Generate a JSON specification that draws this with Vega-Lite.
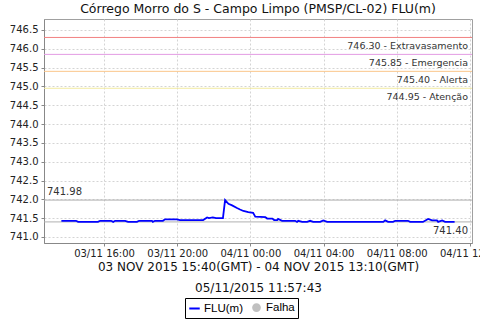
{
  "$schema": "https://vega.github.io/schema/vega-lite/v6.json",
  "autosize": {"type": "none"},
  "width": 428,
  "height": 224,
  "padding": {"left": 44, "top": 19, "right": 8, "bottom": 77},
  "background": "white",
  "title": {"text": "Córrego Morro do S - Campo Limpo (PMSP/CL-02) FLU(m)", "font": "DejaVu Sans", "fontSize": 12.5, "fontWeight": "normal", "color": "#111", "anchor": "middle", "offset": 4},
  "config": {
    "view": {"stroke": "#a0a0a0", "strokeWidth": 1},
    "axis": {"labelFont": "DejaVu Sans", "labelFontSize": 10, "labelColor": "#222", "domainColor": "#888", "tickColor": "#888", "tickSize": 3, "gridColor": "#d4d4d4", "gridDash": [2, 2], "gridWidth": 1, "titleFont": "DejaVu Sans", "titleFontWeight": "normal", "titleColor": "#111"},
    "axisY": {"tickCount": 12, "format": ".1f", "labelOverlap": false, "labelPadding": 3}
  },
  "datasets": {
    "flu": [
      {"t": "2015-11-03T13:40", "v": 741.43, "serie": "FLU(m)"},
      {"t": "2015-11-03T14:28", "v": 741.43, "serie": "FLU(m)"},
      {"t": "2015-11-03T14:35", "v": 741.40, "serie": "FLU(m)"},
      {"t": "2015-11-03T15:40", "v": 741.40, "serie": "FLU(m)"},
      {"t": "2015-11-03T15:47", "v": 741.43, "serie": "FLU(m)"},
      {"t": "2015-11-03T16:23", "v": 741.43, "serie": "FLU(m)"},
      {"t": "2015-11-03T16:30", "v": 741.40, "serie": "FLU(m)"},
      {"t": "2015-11-03T16:36", "v": 741.43, "serie": "FLU(m)"},
      {"t": "2015-11-03T17:09", "v": 741.43, "serie": "FLU(m)"},
      {"t": "2015-11-03T17:19", "v": 741.40, "serie": "FLU(m)"},
      {"t": "2015-11-03T17:48", "v": 741.40, "serie": "FLU(m)"},
      {"t": "2015-11-03T17:55", "v": 741.43, "serie": "FLU(m)"},
      {"t": "2015-11-03T18:37", "v": 741.43, "serie": "FLU(m)"},
      {"t": "2015-11-03T18:40", "v": 741.40, "serie": "FLU(m)"},
      {"t": "2015-11-03T18:47", "v": 741.43, "serie": "FLU(m)"},
      {"t": "2015-11-03T19:13", "v": 741.43, "serie": "FLU(m)"},
      {"t": "2015-11-03T19:20", "v": 741.47, "serie": "FLU(m)"},
      {"t": "2015-11-03T19:59", "v": 741.47, "serie": "FLU(m)"},
      {"t": "2015-11-03T20:09", "v": 741.45, "serie": "FLU(m)"},
      {"t": "2015-11-03T21:25", "v": 741.45, "serie": "FLU(m)"},
      {"t": "2015-11-03T21:38", "v": 741.52, "serie": "FLU(m)"},
      {"t": "2015-11-03T21:44", "v": 741.50, "serie": "FLU(m)"},
      {"t": "2015-11-03T21:57", "v": 741.52, "serie": "FLU(m)"},
      {"t": "2015-11-03T22:07", "v": 741.50, "serie": "FLU(m)"},
      {"t": "2015-11-03T22:30", "v": 741.50, "serie": "FLU(m)"},
      {"t": "2015-11-03T22:37", "v": 741.98, "serie": "FLU(m)"},
      {"t": "2015-11-03T22:48", "v": 741.88, "serie": "FLU(m)"},
      {"t": "2015-11-03T23:00", "v": 741.84, "serie": "FLU(m)"},
      {"t": "2015-11-03T23:16", "v": 741.77, "serie": "FLU(m)"},
      {"t": "2015-11-03T23:26", "v": 741.73, "serie": "FLU(m)"},
      {"t": "2015-11-03T23:37", "v": 741.69, "serie": "FLU(m)"},
      {"t": "2015-11-03T23:53", "v": 741.66, "serie": "FLU(m)"},
      {"t": "2015-11-04T00:09", "v": 741.64, "serie": "FLU(m)"},
      {"t": "2015-11-04T00:16", "v": 741.54, "serie": "FLU(m)"},
      {"t": "2015-11-04T00:49", "v": 741.53, "serie": "FLU(m)"},
      {"t": "2015-11-04T00:55", "v": 741.49, "serie": "FLU(m)"},
      {"t": "2015-11-04T01:12", "v": 741.49, "serie": "FLU(m)"},
      {"t": "2015-11-04T01:18", "v": 741.45, "serie": "FLU(m)"},
      {"t": "2015-11-04T01:28", "v": 741.45, "serie": "FLU(m)"},
      {"t": "2015-11-04T01:31", "v": 741.48, "serie": "FLU(m)"},
      {"t": "2015-11-04T01:44", "v": 741.43, "serie": "FLU(m)"},
      {"t": "2015-11-04T02:27", "v": 741.43, "serie": "FLU(m)"},
      {"t": "2015-11-04T02:33", "v": 741.40, "serie": "FLU(m)"},
      {"t": "2015-11-04T02:37", "v": 741.43, "serie": "FLU(m)"},
      {"t": "2015-11-04T02:50", "v": 741.40, "serie": "FLU(m)"},
      {"t": "2015-11-04T03:06", "v": 741.40, "serie": "FLU(m)"},
      {"t": "2015-11-04T03:16", "v": 741.43, "serie": "FLU(m)"},
      {"t": "2015-11-04T03:26", "v": 741.40, "serie": "FLU(m)"},
      {"t": "2015-11-04T03:49", "v": 741.40, "serie": "FLU(m)"},
      {"t": "2015-11-04T03:59", "v": 741.44, "serie": "FLU(m)"},
      {"t": "2015-11-04T04:12", "v": 741.40, "serie": "FLU(m)"},
      {"t": "2015-11-04T07:16", "v": 741.40, "serie": "FLU(m)"},
      {"t": "2015-11-04T07:22", "v": 741.44, "serie": "FLU(m)"},
      {"t": "2015-11-04T07:32", "v": 741.40, "serie": "FLU(m)"},
      {"t": "2015-11-04T07:48", "v": 741.40, "serie": "FLU(m)"},
      {"t": "2015-11-04T07:55", "v": 741.43, "serie": "FLU(m)"},
      {"t": "2015-11-04T08:37", "v": 741.43, "serie": "FLU(m)"},
      {"t": "2015-11-04T08:44", "v": 741.40, "serie": "FLU(m)"},
      {"t": "2015-11-04T09:26", "v": 741.40, "serie": "FLU(m)"},
      {"t": "2015-11-04T09:43", "v": 741.48, "serie": "FLU(m)"},
      {"t": "2015-11-04T09:56", "v": 741.44, "serie": "FLU(m)"},
      {"t": "2015-11-04T10:12", "v": 741.44, "serie": "FLU(m)"},
      {"t": "2015-11-04T10:16", "v": 741.40, "serie": "FLU(m)"},
      {"t": "2015-11-04T10:29", "v": 741.44, "serie": "FLU(m)"},
      {"t": "2015-11-04T10:39", "v": 741.40, "serie": "FLU(m)"},
      {"t": "2015-11-04T11:10", "v": 741.40, "serie": "FLU(m)"}
    ],
    "limites": [
      {"v": 746.30, "nivel": "Extravasamento", "label": "746.30 - Extravasamento"},
      {"v": 745.85, "nivel": "Emergencia", "label": "745.85 - Emergencia"},
      {"v": 745.40, "nivel": "Alerta", "label": "745.40 - Alerta"},
      {"v": 744.95, "nivel": "Atenção", "label": "744.95 - Atenção"}
    ],
    "extremos": [
      {"v": 741.98, "tipo": "max", "label": "741.98"},
      {"v": 741.40, "tipo": "min", "label": "741.40"}
    ]
  },
  "layer": [
    {
      "data": {"name": "limites"},
      "transform": [{"filter": "datum.nivel == 'Extravasamento'"}],
      "mark": {"type": "rule", "strokeWidth": 1, "color": "#f28080"},
      "encoding": {
        "y": {"field": "v", "type": "quantitative", "title": null, "scale": {"domain": [740.84, 746.79], "nice": false, "zero": false}}
      }
    },
    {
      "data": {"name": "limites"},
      "transform": [{"filter": "datum.nivel == 'Emergencia'"}],
      "mark": {"type": "rule", "strokeWidth": 1, "color": "#e39be3"},
      "encoding": {"y": {"field": "v", "type": "quantitative", "title": null}}
    },
    {
      "data": {"name": "limites"},
      "transform": [{"filter": "datum.nivel == 'Alerta'"}],
      "mark": {"type": "rule", "strokeWidth": 1, "color": "#fbc68a"},
      "encoding": {"y": {"field": "v", "type": "quantitative", "title": null}}
    },
    {
      "data": {"name": "limites"},
      "transform": [{"filter": "datum.nivel == 'Atenção'"}],
      "mark": {"type": "rule", "strokeWidth": 1, "color": "#f3eba0"},
      "encoding": {"y": {"field": "v", "type": "quantitative", "title": null}}
    },
    {
      "data": {"name": "limites"},
      "mark": {"type": "text", "align": "right", "baseline": "middle", "dx": -4, "dy": 9, "font": "DejaVu Sans", "fontSize": 9.5, "color": "#333"},
      "encoding": {
        "x": {"value": "width"},
        "y": {"field": "v", "type": "quantitative", "title": null},
        "text": {"field": "label"}
      }
    },
    {
      "data": {"name": "extremos"},
      "mark": {"type": "rule", "color": "#b0b0b0", "strokeWidth": 1},
      "encoding": {"y": {"field": "v", "type": "quantitative", "title": null}}
    },
    {
      "data": {"name": "extremos"},
      "transform": [{"filter": "datum.tipo == 'max'"}],
      "mark": {"type": "text", "align": "left", "baseline": "middle", "dx": 3, "dy": -8, "font": "DejaVu Sans", "fontSize": 10, "color": "#333"},
      "encoding": {"x": {"value": 0}, "y": {"field": "v", "type": "quantitative", "title": null}, "text": {"field": "label"}}
    },
    {
      "data": {"name": "extremos"},
      "transform": [{"filter": "datum.tipo == 'min'"}],
      "mark": {"type": "text", "align": "right", "baseline": "middle", "dx": -4, "dy": 9, "font": "DejaVu Sans", "fontSize": 10, "color": "#333"},
      "encoding": {"x": {"value": "width"}, "y": {"field": "v", "type": "quantitative", "title": null}, "text": {"field": "label"}}
    },
    {
      "data": {"name": "flu"},
      "mark": {"type": "line", "strokeWidth": 1.8},
      "encoding": {
        "x": {"field": "t", "type": "temporal", "scale": {"domain": ["2015-11-03T12:43", "2015-11-04T12:07"]}, "axis": {"title": ["03 NOV 2015 15:40(GMT) - 04 NOV 2015 13:10(GMT)", "05/11/2015 11:57:43"], "titleFontSize": 12, "titleLineHeight": 21, "titlePadding": 3, "format": "%d/%m %H:%M", "values": [{"year": 2015, "month": 11, "date": 3, "hours": 16}, {"year": 2015, "month": 11, "date": 3, "hours": 20}, {"year": 2015, "month": 11, "date": 4, "hours": 0}, {"year": 2015, "month": 11, "date": 4, "hours": 4}, {"year": 2015, "month": 11, "date": 4, "hours": 8}, {"year": 2015, "month": 11, "date": 4, "hours": 12}], "labelPadding": 2, "labelFlush": false, "labelOverlap": false}},
        "y": {"field": "v", "type": "quantitative", "title": null},
        "color": {"field": "serie", "type": "nominal", "scale": {"domain": ["FLU(m)", "Falha"], "range": ["#0000ff", "#c0c0c0"]},
          "legend": {"title": null, "orient": "none", "legendX": 141, "legendY": 279, "direction": "horizontal", "strokeColor": "#000", "padding": 3, "labelFont": "Liberation Sans", "labelFontSize": 11.5, "labelColor": "#000", "symbolStrokeWidth": 2, "columnPadding": 6, "labelOffset": 3,
            "encode": {"symbols": {"update": {
              "shape": {"signal": "datum.value === 'Falha' ? 'circle' : 'stroke'"},
              "fill": {"signal": "datum.value === 'Falha' ? '#c0c0c0' : 'transparent'"},
              "size": {"signal": "datum.value === 'Falha' ? 45 : 110"}
            }}}}}
      }
    }
  ]
}
